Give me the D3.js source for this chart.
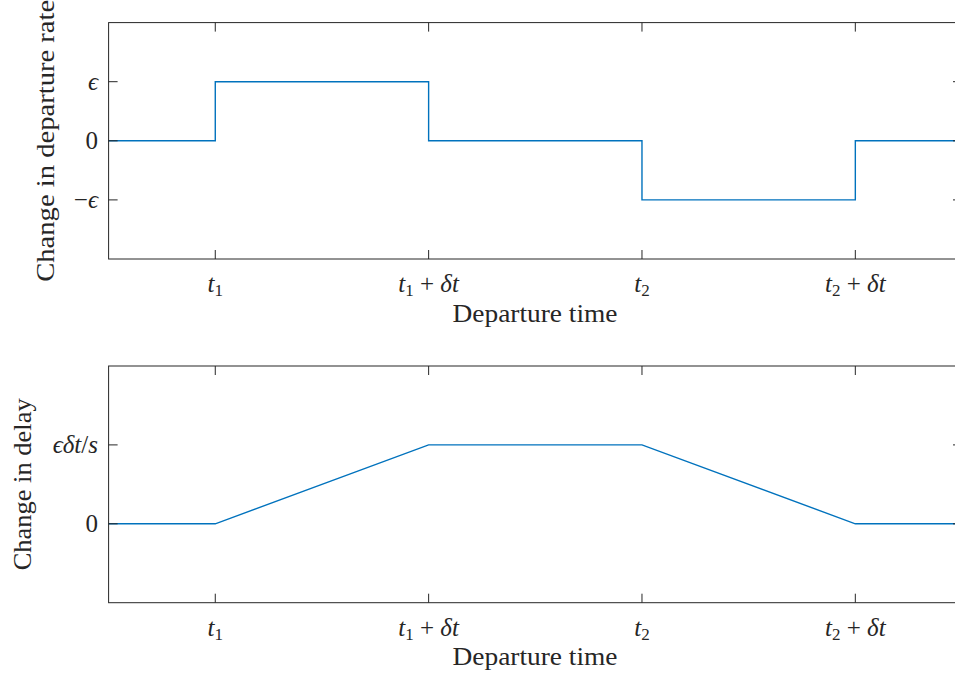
<!DOCTYPE html>
<html><head><meta charset="utf-8">
<script src="https://cdn.jsdelivr.net/npm/d3@7"></script>
<style>
body{margin:0;background:#fff}
text{font-family:"Liberation Serif",serif;fill:#262626}
</style></head><body>
<svg id="c" width="955" height="677"></svg>
<script>
// Data
const xTicks = [1, 2, 3, 4];
const xTickLabels = [["t","1",""],["t","1"," + δt"],["t","2",""],["t","2"," + δt"]];
const rateTimes = [0.5, 1, 2, 3, 4, 4.5];
const rateValues = [0, 1, 0, -1, 0, 0];
const rateTicks = [-1, 0, 1];
const rateTickLabels = ["−ϵ", "0", "ϵ"];
const delayTimes = [0.5, 1, 2, 3, 4, 4.5];
const delayValues = [0, 0, 1, 1, 0, 0];
const delayTicks = [0, 1];
const delayTickLabels = ["0", "ϵδt/s"];

const svg = d3.select("#c");
const color = "#0072BD", axc = "#262626";
const x = d3.scaleLinear().domain([0.5, 4.5]).range([108.6, 962]);
const FS = 25;

function panel(top, bottom, ydom, ticks, tickLabels, times, vals, curve, ylabel, ylabelX, ylabelLen, xlabY, tickLabY) {
  const y = d3.scaleLinear().domain(ydom).range([bottom, top]);
  const g = svg.append("g");
  const line = d3.line().x((d,i)=>x(times[i])).y((d,i)=>y(vals[i])).curve(curve);
  g.append("path").attr("d", line(vals)).attr("fill","none").attr("stroke",color).attr("stroke-width",1.4);
  const [x0,x1] = x.range();
  g.append("rect").attr("x",x0).attr("y",top).attr("width",x1-x0).attr("height",bottom-top)
    .attr("fill","none").attr("stroke",axc).attr("stroke-width",1);
  const tl = 9;
  xTicks.forEach((t,i)=>{
    const px = x(t);
    g.append("line").attr("x1",px).attr("x2",px).attr("y1",bottom).attr("y2",bottom-tl).attr("stroke",axc);
    g.append("line").attr("x1",px).attr("x2",px).attr("y1",top).attr("y2",top+tl).attr("stroke",axc);
    const lab = xTickLabels[i];
    const tx = g.append("text").attr("x",px).attr("y",tickLabY).attr("text-anchor","middle").attr("font-size",FS);
    tx.append("tspan").attr("font-style","italic").text(lab[0]);
    tx.append("tspan").attr("font-size",17).attr("dy",4).text(lab[1]);
    if (lab[2]) {
      tx.append("tspan").attr("dy",-4).text(" + ");
      tx.append("tspan").attr("font-style","italic").text("δt");
    }
  });
  ticks.forEach((t,i)=>{
    const py = y(t);
    g.append("line").attr("x1",x0).attr("x2",x0+tl).attr("y1",py).attr("y2",py).attr("stroke",axc);
    g.append("line").attr("x1",x1).attr("x2",x1-tl).attr("y1",py).attr("y2",py).attr("stroke",axc);
    const lab = tickLabels[i];
    const tx = g.append("text").attr("x",98).attr("y",py).attr("dy","0.33em").attr("text-anchor","end").attr("font-size",FS);
    if (lab === "0") tx.text("0");
    else if (lab === "ϵ") tx.append("tspan").attr("font-style","italic").text("ϵ");
    else if (lab === "−ϵ") { tx.append("tspan").text("−"); tx.append("tspan").attr("font-style","italic").text("ϵ"); }
    else { tx.append("tspan").attr("font-style","italic").text("ϵδt"); tx.append("tspan").text("/"); tx.append("tspan").attr("font-style","italic").text("s"); }
  });
  g.append("text").attr("x",535).attr("y",xlabY).attr("text-anchor","middle").attr("font-size",FS)
    .attr("textLength",165).attr("lengthAdjust","spacingAndGlyphs").text("Departure time");
  g.append("text").attr("transform",`translate(${ylabelX},${(top+bottom)/2}) rotate(-90)`).attr("text-anchor","middle")
    .attr("font-size",FS).attr("dy","0.35em").attr("textLength",ylabelLen).attr("lengthAdjust","spacingAndGlyphs").text(ylabel);
}

panel(22.6, 259, [-2, 2], rateTicks, rateTickLabels, rateTimes, rateValues, d3.curveStepAfter,
  "Change in departure rate", 45, 282, 322, 292);
panel(366, 602.7, [-1, 2], delayTicks, delayTickLabels, delayTimes, delayValues, d3.curveLinear,
  "Change in delay", 22, 172, 665, 636);
</script></body></html>
